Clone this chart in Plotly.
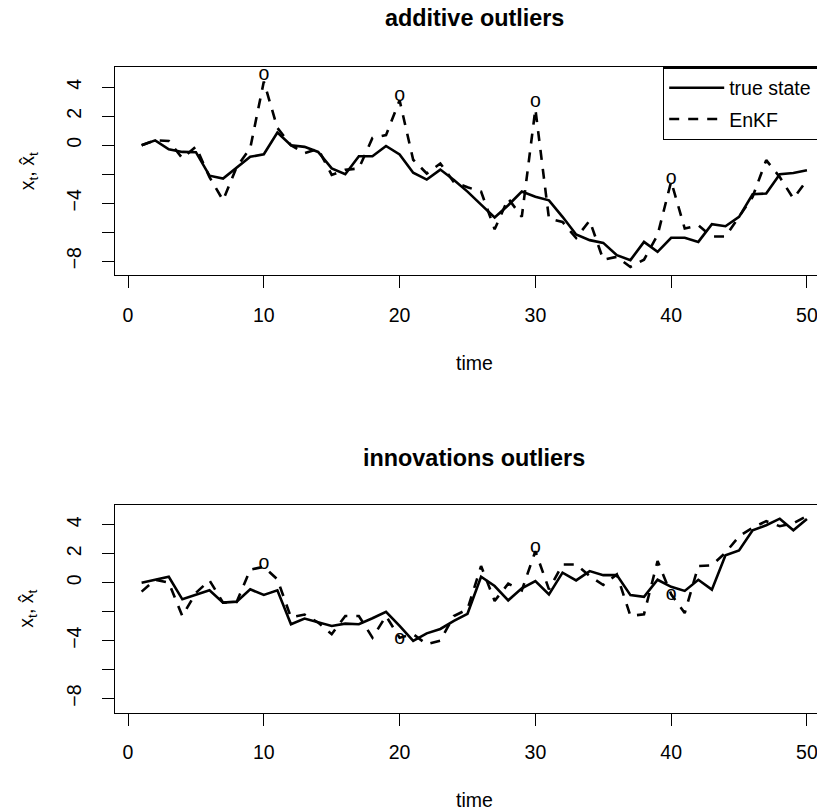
import plotly.graph_objects as go

time = list(range(1, 51))

# additive outliers panel
true_add = [0, 0.34, -0.28, -0.46, -0.48, -2.1, -2.3, -1.54, -0.8, -0.62,
            0.87, 0, -0.11, -0.46, -1.6, -2.0, -0.76, -0.76, -0.05, -0.64,
            -1.9, -2.37, -1.68, -2.4, -3.2, -4.1, -4.99, -4.14, -3.2, -3.56,
            -3.8, -4.94, -6.16, -6.55, -6.74, -7.59, -7.93, -6.67, -7.36, -6.39,
            -6.39, -6.67, -5.45, -5.59, -4.94, -3.38, -3.33, -2.0, -1.91, -1.72]
enkf_add = [0, 0.34, 0.3, -0.9, -0.1, -2.2, -3.8, -1.5, -0.2, 4.4,
            1.2, 0, -0.55, -0.25, -2.05, -1.7, -1.6, 0.5, 0.7, 3.1,
            -1.0, -1.95, -1.26, -2.55, -2.9, -3.2, -5.8, -3.68, -4.94, 2.5,
            -5.06, -5.3, -6.4, -5.2, -7.9, -7.7, -8.4, -7.9, -6.2, -2.5,
            -5.75, -5.52, -6.3, -6.3, -4.94, -3.56, -1.03, -2.2, -3.68, -2.41]
obs_time = [10, 20, 30, 40]
obs_add = [4.83, 3.4, 3.0, -2.37]

# innovations outliers panel
true_inn = [0, 0.18, 0.41, -1.15, -0.85, -0.53, -1.38, -1.31, -0.46, -0.85,
            -0.53, -2.87, -2.48, -2.76, -2.99, -2.83, -2.87, -2.46, -2.02, -2.99,
            -4.02, -3.5, -3.2, -2.64, -2.15, 0.41, -0.23, -1.22, -0.39, 0.11,
            -0.82, 0.69, 0.16, 0.8, 0.52, 0.52, -0.86, -0.98, 0.2, -0.29,
            -0.57, 0.2, -0.48, 1.89, 2.23, 3.62, 3.97, 4.42, 3.62, 4.4]
enkf_inn = [-0.62, 0.2, 0.0, -2.3, -0.7, 0.16, -1.38, -1.33, 0.9, 1.1,
            0.23, -2.4, -2.2, -2.76, -3.56, -2.3, -2.3, -3.8, -2.3, -3.8,
            -3.56, -4.25, -4.0, -2.3, -1.84, 1.15, -1.26, -0.07, -0.53, 2.18,
            -0.46, 1.26, 1.26, 0.46, -0.16, 0.57, -2.3, -2.18, 1.5, -0.8,
            -2.1, 1.15, 1.2, 2.07, 3.2, 3.8, 4.25, 3.9, 4.1, 4.6]
obs_inn = [1.26, -3.9, 2.41, -0.87]

x_ticks = [0, 10, 20, 30, 40, 50]
y_ticks = [-8, -6, -4, -2, 0, 2, 4]
y_ticktext = ["\u22128", "", "\u22124", "", "0", "2", "4"]

# page has an 8px body margin; figure is sized so it ends at the window edge
OFF = 8
W, H = 825 - OFF, 811 - OFF
FONT = "Liberation Sans, Arial, Helvetica, sans-serif"
FS = 19.5
LW = 2.6
DASH = "10px,9px"


def px(x):
    return (x - OFF) / W


def py(y):
    return 1 - (y - OFF) / H


fig = go.Figure()

panels = [
    (true_add, enkf_add, obs_add, "x", "y", True),
    (true_inn, enkf_inn, obs_inn, "x2", "y2", False),
]
for tr, en, ob, xa, ya, leg in panels:
    fig.add_trace(go.Scatter(x=time, y=tr, mode="lines",
                             name="true state\u00a0\u00a0\u00a0\u00a0\u00a0",
                             line=dict(color="black", width=LW),
                             xaxis=xa, yaxis=ya, showlegend=leg,
                             legendgroup="a"))
    fig.add_trace(go.Scatter(x=time, y=en, mode="lines", name="EnKF",
                             line=dict(color="black", width=LW, dash=DASH),
                             xaxis=xa, yaxis=ya, showlegend=leg,
                             legendgroup="b"))
    fig.add_trace(go.Scatter(x=obs_time, y=ob, mode="text", text=["o"] * len(ob),
                             textposition="middle center",
                             textfont=dict(family=FONT, size=FS, color="black"),
                             xaxis=xa, yaxis=ya, showlegend=False,
                             hoverinfo="skip"))

xr = [-0.96, 51.33]
yr = [-8.97, 5.38]
xdom = [px(115), 1.0]
ydom1 = [py(275.2), py(67.3)]
ydom2 = [py(712.5), py(504.8)]


def xaxis(anchor):
    return dict(domain=xdom, range=xr, anchor=anchor, tickvals=x_ticks,
                ticks="outside", ticklen=12, tickwidth=1, tickcolor="black",
                showline=True, linecolor="black", linewidth=1.2, mirror=True,
                showgrid=False, zeroline=False, ticklabelstandoff=10,
                tickfont=dict(family=FONT, size=FS, color="black"))


def yaxis(anchor, dom):
    return dict(domain=dom, range=yr, anchor=anchor, tickvals=y_ticks,
                ticktext=y_ticktext, tickangle=-90,
                ticks="outside", ticklen=12, tickwidth=1, tickcolor="black",
                showline=True, linecolor="black", linewidth=1.2, mirror=False,
                showgrid=False, zeroline=False, ticklabelstandoff=13,
                tickfont=dict(family=FONT, size=FS, color="black"))


ann = []
for title, ty, xt_y, dom in [("additive outliers", 18, 363, ydom1),
                             ("innovations outliers", 458, 800, ydom2)]:
    ann.append(dict(text="<b>" + title + "</b>", x=px(474.5), y=py(ty),
                    xref="paper", yref="paper", showarrow=False,
                    xanchor="center", yanchor="middle",
                    font=dict(family=FONT, size=23.4, color="black")))
    ann.append(dict(text="time", x=px(474.5), y=py(xt_y),
                    xref="paper", yref="paper", showarrow=False,
                    xanchor="center", yanchor="middle",
                    font=dict(family=FONT, size=FS, color="black")))
    ann.append(dict(text="x<sub>t</sub>, x\u0302<sub>t</sub>", x=px(28),
                    y=(dom[0] + dom[1]) / 2, textangle=-90,
                    xref="paper", yref="paper", showarrow=False,
                    xanchor="center", yanchor="middle",
                    font=dict(family=FONT, size=FS, color="black")))

fig.update_layout(
    width=W, height=H,
    margin=dict(l=0, r=0, t=0, b=0, autoexpand=False),
    paper_bgcolor="white", plot_bgcolor="white",
    font=dict(family=FONT, size=FS, color="black"),
    xaxis=xaxis("y"), yaxis=yaxis("x", ydom1),
    xaxis2=xaxis("y2"), yaxis2=yaxis("x2", ydom2),
    annotations=ann,
    legend=dict(x=px(663), y=ydom1[1], xanchor="left", yanchor="top",
                bordercolor="black", borderwidth=1.2, bgcolor="white",
                font=dict(family=FONT, size=FS, color="black"),
                traceorder="grouped", tracegroupgap=3,
                itemwidth=55),
)

fig.write_html("out.html")
